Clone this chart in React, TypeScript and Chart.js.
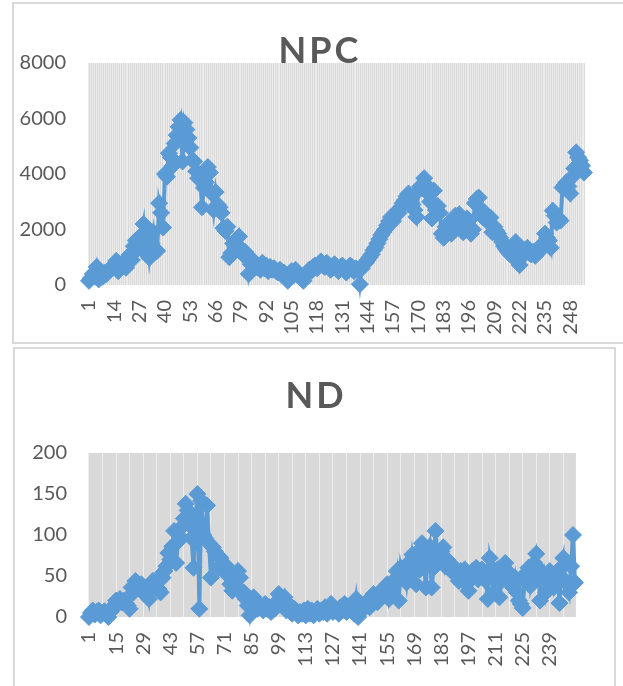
import React, { useEffect, useRef } from 'react';
import { Chart, registerables } from 'chart.js';

Chart.register(...registerables);

// ---------- NPC data ----------
const npcValues: number[] = [
  150, 250, 400, 300, 650, 200, 350, 300, 450, 400,
  500, 550, 600, 750, 870, 500, 600, 700, 800, 620,
  1000, 1100, 900, 1400, 1600, 1300, 1500, 1800, 2200, 1150,
  1700, 980, 1500, 1900, 1200, 1230, 2950, 2600, 2070, 4000,
  3900, 4750, 4600, 4300, 5100, 5400, 5700, 5950, 4450, 5850,
  5600, 5300, 4950, 4500, 4450, 4100, 3850, 3950, 2800, 3500,
  3700, 4250, 4050, 3300, 2700, 3350, 2900, 2800, 2600, 2050,
  1950, 2100, 1000, 1150, 1500, 1600, 1450, 1750, 1300, 1100,
  1200, 1100, 400, 750, 900, 800, 650, 700, 550, 800,
  600, 700, 500, 650, 550, 600, 500, 450, 550, 400,
  450, 350, 150, 400, 500, 350, 550, 400, 300, 250,
  150, 350, 450, 550, 500, 650, 700, 600, 750, 850,
  700, 650, 800, 700, 550, 650, 750, 600, 500, 650,
  700, 550, 450, 600, 700, 650, 500, 600, 550, 30,
  600, 750, 800, 900, 1000, 1100, 1250, 1350, 1500, 1650,
  1800, 1900, 2000, 2150, 2300, 2450, 2300, 2500, 2650, 2600,
  2800, 2950, 3050, 3200, 3300, 3100, 2900, 2700, 2450, 3400,
  3550, 3500, 3850, 3600, 3300, 3000, 2400, 3400, 2700, 2850,
  2600, 1850, 1700, 2100, 2200, 1950, 1850, 2050, 2500, 2300,
  2550, 2100, 1900, 2200, 2400, 2320, 1850, 2000, 2950, 3100,
  3150, 2750, 2450, 2600, 2450, 2250, 2430, 1900, 2100, 1950,
  1850, 1700, 1550, 1400, 1300, 1200, 1120, 1050, 1300, 1550,
  1200, 720, 1000, 1100, 1250, 1340, 1150, 1100, 1200, 1050,
  1230, 1200, 1350, 1500, 1850, 1700, 1600, 1340, 2680, 2500,
  2250, 2400, 2320, 3510, 3600, 3700, 3550, 3300, 3900, 4200,
  4780, 4600, 4490, 4300, 4050,
];
const npcCategories: string[] = npcValues.map((_, i) => String(i + 1));
const npcTickLabels: string[] = [
  '1', '14', '27', '40', '53', '66', '79', '92', '105', '118',
  '131', '144', '157', '170', '183', '196', '209', '222', '235', '248',
];
const npcYTicks = { min: 0, max: 8000, step: 2000 };

// ---------- ND data ----------
const ndValues: number[] = [
  0, 5, 8, 3, 6, 8, 2, 5, 7, 4,
  0, 6, 10, 14, 20, 16, 22, 18, 20, 17,
  14, 10, 36, 30, 44, 38, 34, 40, 30, 28,
  36, 22, 40, 44, 38, 46, 34, 30, 48, 56,
  62, 78, 70, 86, 105, 66, 92, 98, 110, 120,
  138, 130, 112, 96, 60, 118, 150, 10, 142, 100,
  96, 136, 90, 48, 85, 80, 76, 60, 72, 66,
  58, 62, 50, 40, 32, 44, 36, 56, 48, 28,
  30, 22, 14, 2, 18, 24, 20, 10, 14, 12,
  8, 16, 10, 12, 6, 14, 10, 18, 28, 22,
  14, 24, 8, 16, 12, 4, 10, 8, 2, 6,
  4, 8, 2, 10, 4, 8, 2, 6, 10, 4,
  8, 6, 12, 4, 10, 16, 6, 10, 8, 4,
  12, 8, 16, 6, 10, 14, 8, 4, 22, 0,
  6, 12, 10, 16, 20, 12, 24, 28, 22, 18,
  30, 26, 34, 36, 40, 22, 32, 38, 46, 56,
  20, 60, 48, 58, 42, 66, 54, 76, 62, 40,
  80, 58, 90, 66, 36, 74, 86, 36, 60, 105,
  74, 68, 80, 85, 62, 70, 64, 58, 54, 60,
  52, 44, 56, 50, 58, 40, 32, 48, 56, 52,
  60, 46, 54, 58, 50, 44, 22, 72, 60, 30,
  50, 58, 24, 44, 62, 66, 56, 50, 42, 36,
  48, 30, 20, 16, 11, 44, 54, 60, 38, 50,
  66, 77, 60, 20, 42, 52, 30, 44, 56, 48,
  36, 50, 56, 17, 60, 72, 44, 40, 30, 62,
  100, 42,
];
const ndCategories: string[] = ndValues.map((_, i) => String(i + 1));
const ndTickLabels: string[] = [
  '1', '15', '29', '43', '57', '71', '85', '99', '113', '127',
  '141', '155', '169', '183', '197', '211', '225', '239',
];
const ndYTicks = { min: 0, max: 200, step: 50 };

const FONT = 'Lato, "Open Sans", sans-serif';
const TEXT = '#595959';
const LINE = '#5b9bd5';

type Props = {
  title: string;
  labels: string[];
  values: number[];
  tickLabels: string[];
  yTicks: { min: number; max: number; step: number };
  gridEvery: number;
  gridColor: string;
  boxLeft: number;
  boxTop: number;
  boxWidth: number;
  boxHeight: number;
  padTop: number;
  padRight: number;
  yWidth: number;
  xHeight: number;
  yPad: number;
  titleBaseline: number;
};

function ExcelLine(p: Props) {
  const ref = useRef<HTMLCanvasElement>(null);
  const cw = p.boxWidth - 4;
  const ch = p.boxHeight - 4;

  useEffect(() => {
    if (!ref.current) return;
    const bgPlugin = {
      id: 'plotBg',
      beforeDraw(chart: any) {
        const { ctx, chartArea: a } = chart;
        ctx.save();
        ctx.fillStyle = '#d9d9d9';
        ctx.fillRect(a.left, a.top, a.right - a.left, a.bottom - a.top);
        ctx.restore();
      },
    };
    const titlePlugin = {
      id: 'spacedTitle',
      afterDraw(chart: any) {
        const { ctx, width } = chart;
        const spacing = 3;
        ctx.save();
        ctx.font = `bold 36px ${FONT}`;
        ctx.fillStyle = TEXT;
        ctx.textAlign = 'center';
        ctx.textBaseline = 'alphabetic';
        (ctx as any).letterSpacing = spacing + 'px';
        ctx.fillText(p.title, width / 2 + spacing / 2, p.titleBaseline);
        ctx.restore();
      },
    };
    const chart = new Chart(ref.current, {
      type: 'line',
      data: {
        labels: p.labels,
        datasets: [
          {
            data: p.values,
            borderColor: LINE,
            backgroundColor: LINE,
            borderWidth: 4,
            pointStyle: 'rectRot',
            pointRadius: 8.5,
            pointBackgroundColor: LINE,
            pointBorderColor: LINE,
            pointBorderWidth: 1,
            tension: 0,
            clip: false as any,
          },
        ],
      },
      options: {
        responsive: false,
        animation: false,
        devicePixelRatio: 1,
        layout: {
          autoPadding: false,
          padding: { top: p.padTop, right: p.padRight, left: 0, bottom: 0 },
        } as any,
        plugins: {
          legend: { display: false },
          tooltip: { enabled: false },
          title: { display: false },
        },
        scales: {
          x: {
            type: 'category',
            offset: true,
            border: { display: false },
            grid: {
              offset: false,
              drawTicks: false,
              lineWidth: 1,
              color: (c: any) => (c.index % p.gridEvery === 0 ? p.gridColor : 'rgba(0,0,0,0)'),
            },
            ticks: {
              autoSkip: false,
              minRotation: 90,
              maxRotation: 90,
              padding: 15,
              color: TEXT,
              font: { family: FONT, size: 20 },
              callback: (_v: any, i: number) => {
                const lab = p.labels[i];
                return p.tickLabels.includes(lab) ? lab : '';
              },
            },
            afterFit: (s: any) => {
              s.height = p.xHeight;
            },
          } as any,
          y: {
            min: p.yTicks.min,
            max: p.yTicks.max,
            border: { display: false },
            grid: { display: false, drawTicks: false },
            ticks: {
              stepSize: p.yTicks.step,
              padding: p.yPad,
              color: TEXT,
              font: { family: FONT, size: 20 },
              callback: (v: any) => String(v),
            },
            afterFit: (s: any) => {
              s.width = p.yWidth;
            },
          } as any,
        },
      },
      plugins: [bgPlugin, titlePlugin],
    });
    return () => chart.destroy();
  }, []);

  return (
    <div
      style={{
        position: 'absolute',
        left: p.boxLeft,
        top: p.boxTop,
        width: p.boxWidth,
        height: p.boxHeight,
        border: '2px solid #d9d9d9',
        boxSizing: 'border-box',
        background: '#ffffff',
      }}
    >
      <canvas ref={ref} width={cw} height={ch} style={{ display: 'block', width: cw, height: ch }} />
    </div>
  );
}

export default function App() {
  return (
    <div
      style={{
        position: 'absolute',
        left: 0,
        top: 0,
        width: 623,
        height: 686,
        overflow: 'hidden',
        background: '#ffffff',
      }}
    >
      <ExcelLine
        title="NPC"
        labels={npcCategories}
        values={npcValues}
        tickLabels={npcTickLabels}
        yTicks={npcYTicks}
        gridEvery={1}
        gridColor="#ececec"
        boxLeft={12}
        boxTop={2}
        boxWidth={613}
        boxHeight={342}
        padTop={59}
        padRight={12}
        yWidth={74}
        xHeight={57}
        yPad={22}
        titleBaseline={59}
      />
      <ExcelLine
        title="ND"
        labels={ndCategories}
        values={ndValues}
        tickLabels={ndTickLabels}
        yTicks={ndYTicks}
        gridEvery={7}
        gridColor="#eeeeee"
        boxLeft={13}
        boxTop={347}
        boxWidth={603}
        boxHeight={360}
        padTop={104}
        padRight={26}
        yWidth={73}
        xHeight={88}
        yPad={21}
        titleBaseline={59}
      />
    </div>
  );
}
